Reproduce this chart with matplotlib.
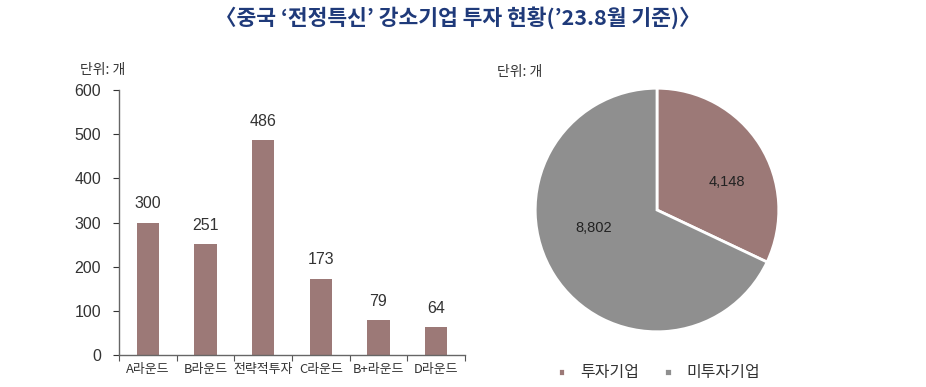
import matplotlib
matplotlib.use("Agg")
import matplotlib.pyplot as plt
import numpy as np

plt.rcParams['font.family'] = ['Liberation Sans', 'Noto Sans CJK KR', 'DejaVu Sans']

title = "〈중국 ‘전정특신’ 강소기업 투자 현황(’23.8월 기준)〉"
categories = ["A라운드", "B라운드", "전략적투자", "C라운드", "B+라운드", "D라운드"]
values = [300, 251, 486, 173, 79, 64]
pie_labels = ["투자기업", "미투자기업"]
pie_values = [4148, 8802]
unit_text = "단위: 개"

bar_color = "#9c7977"
gray_color = "#8f8f8f"
text_color = "#333333"
cjk = ['Noto Sans CJK KR', 'DejaVu Sans']

W, H = 926, 387
fig = plt.figure(figsize=(W/100, H/100), dpi=100)

fig.text(458/W, 1-18/H, title, ha='center', va='center', fontsize=15.5,
         fontweight='bold', color="#1f3a7a", family=cjk)

# Bar chart
ax = fig.add_axes([119/W, 1-355/H, (465-119)/W, (355-90)/H])
x = np.arange(len(categories))
ax.bar(x, values, width=0.39, color=bar_color)
ax.set_xlim(-0.5, len(categories)-0.5)
ax.set_ylim(0, 600)
ax.set_yticks(range(0, 601, 100))
ax.tick_params(axis='y', labelsize=11.5, colors=text_color, length=4, width=0.8, direction='out', pad=9)
ax.set_xticks(x)
ax.set_xticklabels(categories, fontsize=9.3, color=text_color, family=cjk)
ax.tick_params(axis='x', length=0, pad=6)
ax.set_xticks(np.arange(-0.5, len(categories), 1), minor=True)
ax.tick_params(axis='x', which='minor', length=4, width=0.8, color="#555555")
for s in ['top', 'right']:
    ax.spines[s].set_visible(False)
for s in ['left', 'bottom']:
    ax.spines[s].set_color("#666666")
    ax.spines[s].set_linewidth(1.0)
for xi, v in zip(x, values):
    ax.annotate(f"{v}", (xi, v), xytext=(0, 8), textcoords='offset points',
                ha='center', va='bottom', fontsize=11.5, color=text_color)
fig.text(80/W, 1-70/H, unit_text, ha='left', va='center', fontsize=10, color=text_color, family=cjk)

# Pie chart
r = 123
cx, cy = 657, 210
pax = fig.add_axes([(cx-r)/W, 1-(cy+r)/H, 2*r/W, 2*r/H])
wedges, _ = pax.pie(pie_values, colors=[bar_color, gray_color], startangle=90, counterclock=False,
                    radius=1, wedgeprops=dict(edgecolor='white', linewidth=2))
pax.set_xlim(-1.01, 1.01)
pax.set_ylim(-1.01, 1.01)
pax.set_aspect('equal')
pax.axis('off')
pax.text(71/r, 28/r, f"{pie_values[0]:,}", ha='center', va='center', fontsize=10.5, color="#222222")
pax.text(-64/r, -18/r, f"{pie_values[1]:,}", ha='center', va='center', fontsize=10.5, color="#222222")
fig.text(497/W, 1-72/H, unit_text, ha='left', va='center', fontsize=10, color=text_color, family=cjk)

fig.legend(wedges, pie_labels, loc='center', bbox_to_anchor=(659/W, 1-373/H), ncol=2,
           frameon=False, prop={'family': cjk, 'size': 11.5}, handlelength=0.45, handleheight=0.45,
           columnspacing=1.6, handletextpad=0.9, labelcolor=text_color)

fig.savefig("out.png", dpi=100)
